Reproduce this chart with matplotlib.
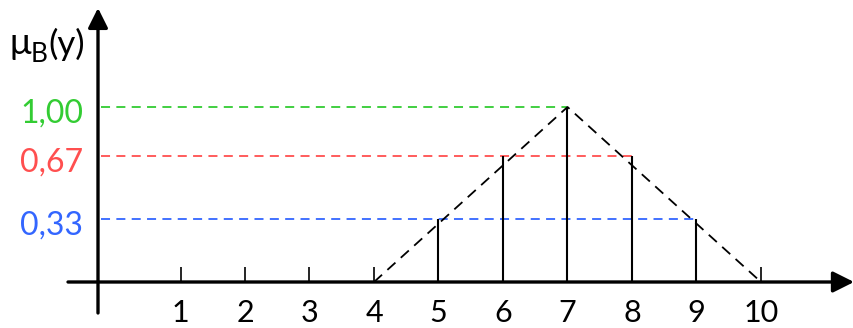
import numpy as np
import matplotlib
matplotlib.use("Agg")
import matplotlib.pyplot as plt

plt.rcParams['font.family'] = ['Lato', 'DejaVu Sans']

# Data
x_ticks = [1, 2, 3, 4, 5, 6, 7, 8, 9, 10]
tri_x = [4, 7, 10]
tri_mu = [0, 1, 0]
stem_x = [5, 6, 7, 8, 9]
stem_mu = [0.36, 0.72, 1.0, 0.72, 0.36]
level_mu = [1.0, 0.72, 0.36]
level_end = [7, 8, 9]
level_labels = ["1,00", "0,67", "0,33"]
level_colors = ["#33CC33", "#FF4F4F", "#3366FF"]

W, H = 854, 328
fig = plt.figure(figsize=(W / 100, H / 100), dpi=100)
ax = fig.add_axes([0, 0, 1, 1])

# pixel -> data mapping
x0_px, sx = 116.0, 64.5
y0_px, sy = 282.0, 175.0
ax.set_xlim(-x0_px / sx, (W - x0_px) / sx)
ax.set_ylim(-(H - y0_px) / sy, y0_px / sy)
ax.axis("off")


def dx(px):
    return (px - x0_px) / sx


def dy(py):
    return (y0_px - py) / sy


yaxis_x = dx(98)

# axes with arrows
ax.annotate("", xy=(dx(854), 0), xytext=(dx(68), 0),
            arrowprops=dict(arrowstyle="-|>", lw=2.4, color="black",
                            mutation_scale=32, shrinkA=0, shrinkB=0))
ax.annotate("", xy=(yaxis_x, dy(8)), xytext=(yaxis_x, dy(313)),
            arrowprops=dict(arrowstyle="-|>", lw=2.4, color="black",
                            mutation_scale=30, shrinkA=0, shrinkB=0))

# ticks and tick labels
ax.vlines(x_ticks, 0, dy(267), color="black", lw=1.2)
for xt in x_ticks:
    ax.text(xt, dy(327.5), str(xt), ha="center", va="bottom", fontsize=22)

# horizontal dashed levels
for mu, xe, lab, col in zip(level_mu, level_end, level_labels, level_colors):
    ax.plot([dx(101), xe], [mu, mu], color=col, lw=1.3, dashes=(5, 3.5))
    ax.text(dx(83), mu - 7 / sy, lab, ha="right",
            va="center", fontsize=23, color=col)

# stems
ax.vlines(stem_x, 0, stem_mu, color="black", lw=1.5)

# triangular membership function
ax.plot(tri_x, tri_mu, color="black", lw=1.3, dashes=(6, 4))

# axis label mu_B(y)
ax.text(dx(9), dy(54), "μ", ha="left", va="baseline", fontsize=26)
ax.text(dx(31), dy(62), "B", ha="left", va="baseline", fontsize=19)
ax.text(dx(48), dy(55), "(y)", ha="left", va="baseline", fontsize=25)

fig.savefig("out.png", dpi=100)
